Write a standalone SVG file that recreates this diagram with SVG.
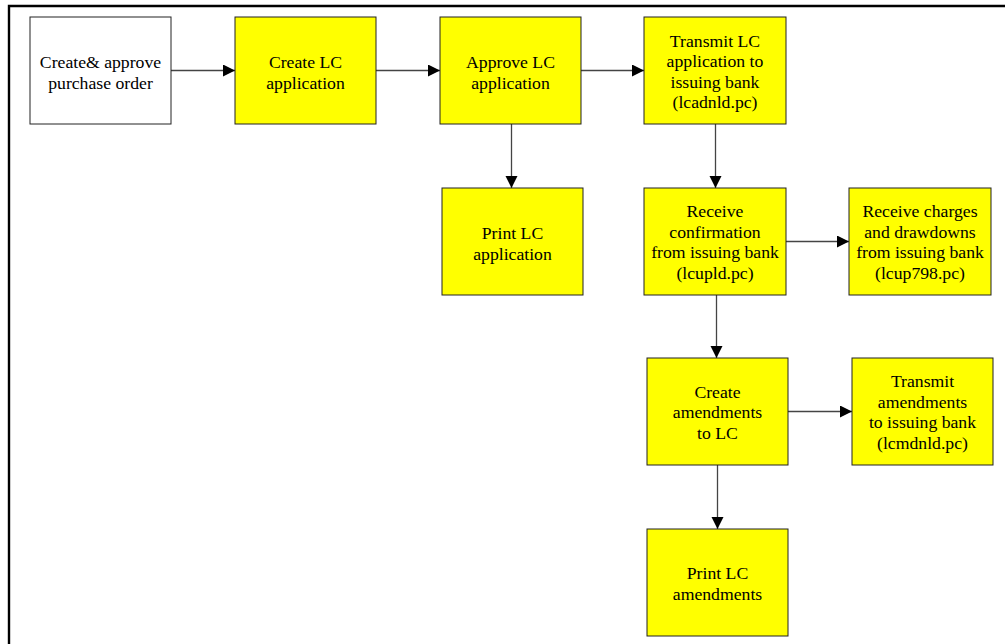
<svg xmlns="http://www.w3.org/2000/svg" width="1005" height="644" viewBox="0 0 1005 644">
  <style>
    .box { stroke: #222; stroke-width: 1; }
    .plain { fill: #ffffff; }
    .hl { fill: #ffff00; }
    .lbl { font-family: "Liberation Serif", "Times New Roman", serif; font-size: 17.7px; fill: #000; text-anchor: middle; }
    .edge { stroke: #444; stroke-width: 1.3; fill: none; marker-end: url(#arrow); }
    .frame { stroke: #000; stroke-width: 2.4; fill: none; }
  </style>
  <defs>
    <marker id="arrow" markerUnits="userSpaceOnUse" markerWidth="13" markerHeight="13" refX="12" refY="6" orient="auto">
      <path d="M0,0 L12,6 L0,12 Z" fill="#000"/>
    </marker>
  </defs>

  <rect width="1005" height="644" fill="#fff"/>
  <!-- page frame (continues past the right and bottom edges) -->
  <path class="frame" d="M9,650 L9,6 L1010,6"/>

  <g id="connectors">
    <line class="edge" x1="171" y1="70.5" x2="235" y2="70.5"/>
    <line class="edge" x1="376" y1="70.5" x2="440" y2="70.5"/>
    <line class="edge" x1="581" y1="70.5" x2="644" y2="70.5"/>
    <line class="edge" x1="511.5" y1="124" x2="511.5" y2="188"/>
    <line class="edge" x1="715.5" y1="124" x2="715.5" y2="188"/>
    <line class="edge" x1="786" y1="241.5" x2="849" y2="241.5"/>
    <line class="edge" x1="716.5" y1="295" x2="716.5" y2="358"/>
    <line class="edge" x1="788" y1="411.5" x2="852" y2="411.5"/>
    <line class="edge" x1="717.5" y1="465" x2="717.5" y2="529"/>
  </g>

  <g id="create-po">
    <rect class="box plain" x="30" y="17" width="141" height="107"/>
    <text class="lbl" x="100.5"><tspan x="100.5" y="68.2">Create&amp; approve</tspan><tspan x="100.5" y="88.7">purchase order</tspan></text>
  </g>

  <g id="create-lc">
    <rect class="box hl" x="235" y="17" width="141" height="107"/>
    <text class="lbl"><tspan x="305.5" y="68.2">Create LC</tspan><tspan x="305.5" y="88.7">application</tspan></text>
  </g>

  <g id="approve-lc">
    <rect class="box hl" x="440" y="17" width="141" height="107"/>
    <text class="lbl"><tspan x="510.5" y="68.2">Approve LC</tspan><tspan x="510.5" y="88.7">application</tspan></text>
  </g>

  <g id="transmit-lc">
    <rect class="box hl" x="644" y="17" width="142" height="107"/>
    <text class="lbl"><tspan x="715" y="46.5">Transmit LC</tspan><tspan x="715" y="67">application to</tspan><tspan x="715" y="87.5">issuing bank</tspan><tspan x="715" y="108">(lcadnld.pc)</tspan></text>
  </g>

  <g id="print-lc">
    <rect class="box hl" x="442" y="188" width="141" height="107"/>
    <text class="lbl"><tspan x="512.5" y="239">Print LC</tspan><tspan x="512.5" y="259.5">application</tspan></text>
  </g>

  <g id="receive-confirmation">
    <rect class="box hl" x="644" y="188" width="142" height="107"/>
    <text class="lbl"><tspan x="715" y="217.3">Receive</tspan><tspan x="715" y="237.8">confirmation</tspan><tspan x="715" y="258.3">from issuing bank</tspan><tspan x="715" y="278.8">(lcupld.pc)</tspan></text>
  </g>

  <g id="receive-charges">
    <rect class="box hl" x="849" y="188" width="142" height="107"/>
    <text class="lbl"><tspan x="920" y="217.3">Receive charges</tspan><tspan x="920" y="237.8">and drawdowns</tspan><tspan x="920" y="258.3">from issuing bank</tspan><tspan x="920" y="278.8">(lcup798.pc)</tspan></text>
  </g>

  <g id="create-amendments">
    <rect class="box hl" x="647" y="358" width="141" height="107"/>
    <text class="lbl"><tspan x="717.5" y="397.5">Create</tspan><tspan x="717.5" y="418">amendments</tspan><tspan x="717.5" y="438.5">to LC</tspan></text>
  </g>

  <g id="transmit-amendments">
    <rect class="box hl" x="852" y="358" width="141" height="107"/>
    <text class="lbl"><tspan x="922.5" y="387.2">Transmit</tspan><tspan x="922.5" y="407.7">amendments</tspan><tspan x="922.5" y="428.2">to issuing bank</tspan><tspan x="922.5" y="448.7">(lcmdnld.pc)</tspan></text>
  </g>

  <g id="print-amendments">
    <rect class="box hl" x="647" y="529" width="141" height="107"/>
    <text class="lbl"><tspan x="717.5" y="579">Print LC</tspan><tspan x="717.5" y="599.5">amendments</tspan></text>
  </g>
</svg>
